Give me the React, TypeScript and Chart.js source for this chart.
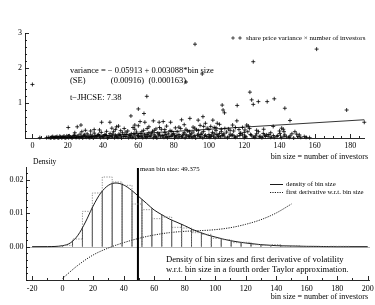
import React, { useEffect, useRef } from "react";
import { Chart, registerables } from "chart.js";
Chart.register(...registerables);

const FONT = '"Liberation Serif", "Times New Roman", Times, serif';
const W = 375;
const H = 305;

// ---------------- Top panel data ----------------
// share price variance x number of investors (x = bin size, y = variance)
const scatterPoints: [number, number][] = [
  [0, 1.53], [4.2, 0.01],
  // dense band
  [8, 0.01], [9, 0.02], [10, 0.01], [11, 0.03], [12, 0.01], [13, 0.02], [14, 0.04], [15, 0.01],
  [16, 0.03], [17, 0.02], [18, 0.05], [19, 0.01], [20, 0.03], [21, 0.06], [22, 0.02], [23, 0.04],
  [24, 0.08], [25, 0.02], [26, 0.05], [27, 0.11], [28, 0.03], [29, 0.07], [30, 0.04], [31, 0.12],
  [32, 0.02], [33, 0.09], [34, 0.05], [35, 0.14], [36, 0.03], [37, 0.08], [38, 0.06], [39, 0.16],
  [40, 0.04], [41, 0.1], [42, 0.07], [43, 0.02], [44, 0.13], [45, 0.05], [46, 0.18], [47, 0.08],
  [48, 0.03], [49, 0.11], [50, 0.06], [51, 0.15], [52, 0.09], [53, 0.04], [54, 0.2], [55, 0.07],
  [56, 0.12], [57, 0.03], [58, 0.09], [59, 0.17], [60, 0.05], [61, 0.13], [62, 0.08], [63, 0.22],
  [64, 0.04], [65, 0.1], [66, 0.15], [67, 0.06], [68, 0.19], [69, 0.09], [70, 0.03], [71, 0.14],
  [72, 0.11], [73, 0.25], [74, 0.07], [75, 0.16], [76, 0.05], [77, 0.12], [78, 0.21], [79, 0.08],
  [80, 0.13], [81, 0.04], [82, 0.18], [83, 0.1], [84, 0.27], [85, 0.06], [86, 0.15], [87, 0.09],
  [88, 0.2], [89, 0.03], [90, 0.12], [91, 0.17], [92, 0.07], [93, 0.23], [94, 0.11], [95, 0.05],
  [96, 0.14], [97, 0.19], [98, 0.08], [99, 0.28], [100, 0.1], [101, 0.04], [102, 0.16], [103, 0.12],
  [104, 0.21], [105, 0.06], [106, 0.13], [107, 0.25], [108, 0.09], [109, 0.03], [110, 0.17], [112, 0.11],
  [113, 0.07], [114, 0.2], [116, 0.05], [118, 0.14], [119, 0.09], [121, 0.03], [122, 0.18], [124, 0.08],
  [126, 0.02], [127, 0.12], [129, 0.05], [132, 0.04], [134, 0.1], [137, 0.02], [139, 0.07], [144, 0.03],
  [146, 0.06], [152, 0.02], [157, 0.01],
  [10.5, 0.0], [12.5, 0.01], [14.5, 0.0], [16.5, 0.01], [18.5, 0.0], [20.5, 0.01], [22.5, 0.0], [24.5, 0.02],
  [26.5, 0.01], [28.5, 0.0], [30.5, 0.02], [32.5, 0.01], [34.5, 0.0], [36.5, 0.03], [38.5, 0.01], [40.5, 0.02],
  [42.5, 0.0], [44.5, 0.03], [46.5, 0.01], [48.5, 0.02], [50.5, 0.0], [52.5, 0.04], [54.5, 0.01], [56.5, 0.02],
  [58.5, 0.0], [60.5, 0.03], [62.5, 0.01], [64.5, 0.02], [66.5, 0.04], [68.5, 0.01], [70.5, 0.0], [72.5, 0.03],
  [74.5, 0.02], [76.5, 0.01], [78.5, 0.04], [80.5, 0.0], [82.5, 0.02], [84.5, 0.03], [86.5, 0.01], [88.5, 0.05],
  [90.5, 0.02], [92.5, 0.0], [94.5, 0.03], [96.5, 0.01], [98.5, 0.04], [100.5, 0.02], [103.5, 0.01], [106.5, 0.03],
  [110.5, 0.01], [115, 0.02], [120, 0.01], [125, 0.03], [130, 0.01], [135, 0.02], [141, 0.01], [148, 0.0],
  [11.5, 0.04], [13.5, 0.03], [15.5, 0.05], [17.5, 0.04], [19.5, 0.06], [21.5, 0.03], [23.5, 0.07], [25.5, 0.05],
  [27.5, 0.04], [29.5, 0.09], [31.5, 0.06], [33.5, 0.03], [35.5, 0.07], [37.5, 0.1], [39.5, 0.05], [41.5, 0.08],
  [43.5, 0.06], [45.5, 0.11], [47.5, 0.05], [49.5, 0.08], [51.5, 0.04], [53.5, 0.1], [55.5, 0.06], [57.5, 0.13],
  [59.5, 0.07], [61.5, 0.04], [63.5, 0.09], [65.5, 0.06], [67.5, 0.12], [69.5, 0.05], [71.5, 0.08], [73.5, 0.06],
  [75.5, 0.1], [77.5, 0.04], [79.5, 0.09], [81.5, 0.07], [83.5, 0.05], [85.5, 0.11], [87.5, 0.06], [89.5, 0.09],
  [91.5, 0.04], [93.5, 0.08], [95.5, 0.1], [97.5, 0.06], [99.5, 0.03], [101.5, 0.08], [102.5, 0.05], [104.5, 0.1],
  [105.5, 0.04], [107.5, 0.07], [108.5, 0.12], [111.5, 0.05], [113.5, 0.09], [114.5, 0.03], [117.5, 0.07], [120.5, 0.05],
  [123.5, 0.1], [126.5, 0.06], [128.5, 0.03], [131.5, 0.08], [133.5, 0.05], [136.5, 0.07], [138.5, 0.04], [142.5, 0.05],
  [145.5, 0.02], [150.5, 0.04], [155, 0.02],
  // middle level
  [24, 0.15], [28, 0.18], [33, 0.2], [38, 0.23], [42, 0.19], [47, 0.24], [50, 0.21], [53, 0.17],
  [58, 0.25], [62, 0.18], [65, 0.27], [69, 0.22], [72, 0.3], [75, 0.24], [79, 0.19], [83, 0.31],
  [87, 0.25], [89, 0.18], [92, 0.28], [94, 0.21], [97, 0.33], [100, 0.24], [103, 0.3], [107, 0.18],
  [109, 0.27], [112, 0.22], [115, 0.3], [117, 0.24], [120, 0.16], [123, 0.27], [128, 0.18], [131, 0.25],
  [135, 0.15], [140, 0.2], [147, 0.12],
  [30, 0.22], [35, 0.24], [45, 0.28], [52, 0.27], [57, 0.3], [60, 0.35], [66, 0.32], [70, 0.26],
  [76, 0.34], [81, 0.29], [86, 0.38], [91, 0.31], [95, 0.36], [98, 0.42], [101, 0.33], [104, 0.29],
  [106, 0.39], [111, 0.26], [119, 0.3], [127, 0.22],
  // outliers
  [20.3, 0.3], [25.4, 0.32], [27.5, 0.37], [39.2, 0.45], [43.9, 0.45], [47.7, 0.32], [48.8, 0.34],
  [55.8, 0.63], [58, 0.37], [60, 0.83], [61, 0.47], [63.2, 0.7], [63.7, 0.45], [64.8, 1.19], [68.5, 0.49],
  [71.8, 0.45], [74.1, 0.47], [78.3, 0.45], [84.5, 0.52], [87, 1.6], [89.2, 0.56], [92.1, 2.68],
  [93.9, 0.51], [96.2, 1.83], [96.6, 0.61], [102.2, 0.51], [104.7, 0.42], [107.5, 0.94], [108, 0.8],
  [108.8, 0.72], [113.4, 0.37], [115.8, 0.49], [116, 0.93], [117.6, 0.13], [120.4, 0.23], [121.4, 0.37],
  [122.3, 0.34], [123.2, 1.31], [124.2, 1.09], [125.1, 0.96], [125.1, 2.18], [128, 1.04], [130.8, 0.13],
  [132.7, 0.09], [133, 1.04], [136.4, 0.33], [137, 1.12], [140.2, 0.13], [141.2, 0.28], [142.1, 0.25],
  [142.5, 0.18], [143, 0.85], [143, 0.09], [145.9, 0.5], [148.7, 0.18], [149.7, 0.11], [151.2, 0.09],
  [154, 0.04], [161, 2.54], [178, 0.8], [188, 0.45],
];
const regressionIntercept = -0.05913;
const regressionSlope = 0.003088;
const regressionXRange = [0, 188];
const topXTickLabels = [0, 20, 40, 60, 80, 100, 120, 140, 160, 180];
const topYTickLabels = [1, 2, 3];

// ---------------- Bottom panel data ----------------
const binEdges = [
  0, 6.5, 13, 19.5, 26, 32.5, 39, 45.5, 52, 58.5, 65, 71.5, 78, 84.5, 91, 97.5, 104, 110.5, 117,
  123.5, 130, 136.5, 143, 149.5, 156, 162.5, 169, 175.5, 182, 188.5,
];
const empiricalDensity = [
  0.0004, 0.0023, 0.0106, 0.0161, 0.0209, 0.0194, 0.0184, 0.0128, 0.0111, 0.0084, 0.0089, 0.0058,
  0.0056, 0.0042, 0.0037, 0.0025, 0.0021, 0.0012, 0.0013, 0.0006, 0.0004, 0.0006, 0.0002, 0.0003,
  0.0, 0.0001, 0.0, 0.0001, 0.0001,
];
const fittedAtEdges = [
  0.0003, 0.0016, 0.0058, 0.0118, 0.0168, 0.019, 0.0187, 0.0168, 0.0142, 0.0115, 0.0096, 0.008,
  0.0068, 0.0053, 0.0042, 0.0032, 0.0024, 0.0018, 0.0013, 0.0009, 0.0006, 0.0004, 0.0003, 0.0002,
  0.0001, 0.0001, 0, 0, 0, 0,
];
const densityX = [-20, -10, 0, 5, 10, 15, 20, 25, 30, 35, 40, 45, 50, 55, 60, 65, 70, 75, 80, 85, 90, 95, 100, 105, 110, 120, 130, 140, 150, 160, 180, 200];
const densityY = [
  0, 0.00002, 0.0003, 0.0011, 0.0034, 0.0074, 0.0122, 0.0161, 0.0184, 0.0191, 0.0185, 0.017, 0.015,
  0.013, 0.011, 0.0096, 0.0083, 0.0073, 0.0063, 0.0052, 0.0043, 0.0035, 0.0029, 0.0023, 0.0018,
  0.0011, 0.0006, 0.0003, 0.0002, 0.0001, 0, 0,
];
const derivX = [0, 10, 20, 30, 40, 50, 60, 70, 80, 90, 100, 110, 120, 130, 140, 150];
const derivY = [
  -0.0095, -0.0056, -0.0025, -0.0004, 0.0012, 0.0025, 0.0035, 0.0042, 0.0046, 0.0048, 0.0051,
  0.0057, 0.0067, 0.0081, 0.0101, 0.0128,
];
const meanBinSize = 49.375;
const bottomXTickLabels = [-20, 0, 20, 40, 60, 80, 100, 120, 140, 160, 180, 200];
const bottomYTickLabels = [0, 0.01, 0.02];

type AxisSpec = {
  xMajor: number[];
  xMinor: [number, number, number];
  yMajor: number[];
  yMinor: [number, number, number];
  xFmt: (v: number) => string;
  yFmt: (v: number) => string;
  xLabelY: number;
  yLabelRight: number;
  fontSize: number;
};

function drawAxes(chart: any, s: AxisSpec) {
  const { ctx, chartArea: a } = chart;
  const xs = chart.scales.x;
  const ys = chart.scales.y;
  ctx.save();
  ctx.strokeStyle = "#111";
  ctx.lineWidth = 0.9;
  ctx.beginPath();
  ctx.moveTo(a.left + 0.5, a.top);
  ctx.lineTo(a.left + 0.5, a.bottom + 0.5);
  ctx.lineTo(a.right, a.bottom + 0.5);
  ctx.stroke();
  ctx.beginPath();
  const [xf, xt, xstep] = s.xMinor;
  const nx = Math.round((xt - xf) / xstep);
  for (let i = 0; i <= nx; i++) {
    const v = xf + i * xstep;
    const px = Math.round(xs.getPixelForValue(v)) + 0.5;
    const major = s.xMajor.some((m) => Math.abs(m - v) < 1e-9);
    ctx.moveTo(px, a.bottom);
    ctx.lineTo(px, a.bottom - (major ? 4 : 2));
  }
  const [yf, yt, ystep] = s.yMinor;
  const ny = Math.round((yt - yf) / ystep);
  for (let i = 0; i <= ny; i++) {
    const v = yf + i * ystep;
    const py = Math.round(ys.getPixelForValue(v)) + 0.5;
    const major = s.yMajor.some((m) => Math.abs(m - v) < 1e-9);
    ctx.moveTo(a.left, py);
    ctx.lineTo(a.left + (major ? 4 : 2), py);
  }
  ctx.stroke();
  ctx.fillStyle = "#000";
  ctx.font = `${s.fontSize}px ${FONT}`;
  ctx.textAlign = "center";
  ctx.textBaseline = "middle";
  s.xMajor.forEach((v) => ctx.fillText(s.xFmt(v), xs.getPixelForValue(v), s.xLabelY));
  ctx.textAlign = "right";
  s.yMajor.forEach((v) => ctx.fillText(s.yFmt(v), s.yLabelRight, ys.getPixelForValue(v)));
  ctx.restore();
}

function drawCross(ctx: CanvasRenderingContext2D, x: number, y: number, r: number) {
  ctx.beginPath();
  ctx.moveTo(x - r, y);
  ctx.lineTo(x + r, y);
  ctx.moveTo(x, y - r);
  ctx.lineTo(x, y + r);
  ctx.stroke();
}

const topPlugin = {
  id: "topDecor",
  afterDraw(chart: any) {
    drawAxes(chart, {
      xMajor: topXTickLabels,
      xMinor: [0, 185, 5],
      yMajor: topYTickLabels,
      yMinor: [0, 3, 0.2],
      xFmt: (v) => String(v),
      yFmt: (v) => String(v),
      xLabelY: 146,
      yLabelRight: 22,
      fontSize: 8,
    });
    const ctx: CanvasRenderingContext2D = chart.ctx;
    ctx.save();
    ctx.fillStyle = "#000";
    ctx.strokeStyle = "#000";
    ctx.lineWidth = 0.7;
    // legend
    drawCross(ctx, 233, 38, 1.8);
    drawCross(ctx, 240, 38, 1.8);
    ctx.font = `7px ${FONT}`;
    ctx.textBaseline = "middle";
    ctx.textAlign = "left";
    ctx.fillText("share price variance \u00d7 number of investors", 246, 38);
    // regression annotation
    ctx.font = `8.5px ${FONT}`;
    const p1 = "variance = ";
    const p2 = "\u2212 0.05913 ";
    const line1 = p1 + p2 + "+ 0.003088*bin size";
    ctx.fillText(line1, 70, 71);
    const x2 = 70 + ctx.measureText(p1).width;
    const x3 = x2 + ctx.measureText(p2).width;
    ctx.fillText("(SE)", 70, 80.5);
    ctx.fillText("(0.00916)", x2 + 3, 80.5);
    ctx.fillText("(0.000163)", x3 + 4, 80.5);
    ctx.fillText("t\u2212JHCSE: 7.38", 70, 98);
    // x title
    ctx.font = `8px ${FONT}`;
    ctx.textAlign = "right";
    ctx.fillText("bin size = number of investors", 368, 157);
    ctx.restore();
  },
};

const bottomPlugin = {
  id: "bottomDecor",
  beforeDatasetsDraw(chart: any) {
    const { ctx, chartArea: a } = chart;
    const y0 = Math.round(chart.scales.y.getPixelForValue(0)) + 0.5;
    ctx.save();
    ctx.strokeStyle = "#b8b8b8";
    ctx.lineWidth = 1;
    ctx.beginPath();
    ctx.moveTo(a.left, y0);
    ctx.lineTo(a.right, y0);
    ctx.stroke();
    ctx.restore();
  },
  afterDraw(chart: any) {
    drawAxes(chart, {
      xMajor: bottomXTickLabels,
      xMinor: [-20, 200, 10],
      yMajor: bottomYTickLabels,
      yMinor: [-0.01, 0.022, 0.002],
      xFmt: (v) => String(v),
      yFmt: (v) => v.toFixed(2),
      xLabelY: 288.5,
      yLabelRight: 23.5,
      fontSize: 8,
    });
    const ctx: CanvasRenderingContext2D = chart.ctx;
    ctx.save();
    ctx.fillStyle = "#000";
    ctx.textBaseline = "middle";
    ctx.textAlign = "left";
    ctx.font = `7.5px ${FONT}`;
    ctx.fillText("Density", 33, 162);
    ctx.font = `6.8px ${FONT}`;
    const mx = chart.scales.x.getPixelForValue(meanBinSize);
    ctx.fillText("mean bin size: " + meanBinSize, mx + 2, 169.5);
    // legend
    ctx.strokeStyle = "#000";
    ctx.lineWidth = 0.9;
    ctx.beginPath();
    ctx.moveTo(270, 184.5);
    ctx.lineTo(283, 184.5);
    ctx.stroke();
    ctx.setLineDash([1.2, 1.2]);
    ctx.beginPath();
    ctx.moveTo(270, 192.5);
    ctx.lineTo(283, 192.5);
    ctx.stroke();
    ctx.setLineDash([]);
    ctx.font = `6.8px ${FONT}`;
    ctx.fillText("density of bin size", 286, 184.5);
    ctx.fillText("first derivative w.r.t. bin size", 286, 192.5);
    // annotation
    ctx.font = `8.6px ${FONT}`;
    ctx.fillText("Density of bin sizes and first derivative of volatility", 166, 260);
    ctx.fillText("w.r.t. bin size in a fourth order Taylor approximation.", 166, 269.5);
    // x title
    ctx.font = `8px ${FONT}`;
    ctx.textAlign = "right";
    ctx.fillText("bin size = number of investors", 368, 296.5);
    ctx.restore();
  },
};

export default function App() {
  const topRef = useRef<HTMLCanvasElement>(null);
  const botRef = useRef<HTMLCanvasElement>(null);

  useEffect(() => {
    const top = new Chart(topRef.current as HTMLCanvasElement, {
      type: "scatter",
      data: {
        datasets: [
          {
            type: "scatter",
            data: scatterPoints.map(([x, y]) => ({ x, y })),
            pointStyle: "cross",
            pointRadius: 2,
            borderColor: "#000",
            backgroundColor: "#000",
            borderWidth: 0.8,
            clip: 6,
          } as any,
          {
            type: "line",
            data: regressionXRange.map((x) => ({ x, y: regressionIntercept + regressionSlope * x })),
            borderColor: "#000",
            borderWidth: 0.8,
            pointRadius: 0,
            fill: false,
          } as any,
        ],
      },
      options: {
        responsive: false,
        animation: false,
        devicePixelRatio: 1,
        events: [],
        layout: { padding: { left: 25, top: 33, right: W - 365, bottom: H - 138 } },
        scales: {
          x: { type: "linear", min: -4.2, max: 188.4, display: false },
          y: { type: "linear", min: 0, max: 3, display: false },
        },
        plugins: { legend: { display: false }, tooltip: { enabled: false } },
      },
      plugins: [topPlugin],
    });

    const histPath: { x: number; y: number }[] = [];
    empiricalDensity.forEach((h, i) => {
      histPath.push({ x: binEdges[i], y: 0 });
      histPath.push({ x: binEdges[i], y: h });
      histPath.push({ x: binEdges[i + 1], y: h });
      histPath.push({ x: binEdges[i + 1], y: 0 });
    });
    const spikes: { x: number; y: number | null }[] = [];
    fittedAtEdges.forEach((h, i) => {
      if (h <= 0) return;
      spikes.push({ x: binEdges[i], y: 0 });
      spikes.push({ x: binEdges[i], y: h });
      spikes.push({ x: binEdges[i], y: null });
    });

    const bot = new Chart(botRef.current as HTMLCanvasElement, {
      type: "line",
      data: {
        datasets: [
          {
            data: histPath,
            borderColor: "#777",
            borderWidth: 0.8,
            borderDash: [1.3, 1.3],
            pointRadius: 0,
            tension: 0,
            fill: false,
          },
          {
            data: spikes as any,
            borderColor: "#111",
            borderWidth: 0.8,
            pointRadius: 0,
            tension: 0,
            spanGaps: false,
            fill: false,
          },
          {
            data: densityX.map((x, i) => ({ x, y: densityY[i] })),
            borderColor: "#000",
            borderWidth: 0.9,
            pointRadius: 0,
            cubicInterpolationMode: "monotone",
            fill: false,
          },
          {
            data: derivX.map((x, i) => ({ x, y: derivY[i] })),
            borderColor: "#000",
            borderWidth: 0.9,
            borderDash: [1.2, 1.2],
            pointRadius: 0,
            cubicInterpolationMode: "monotone",
            fill: false,
          },
          {
            data: [
              { x: meanBinSize, y: -0.01 },
              { x: meanBinSize, y: 0.0236 },
            ],
            borderColor: "#000",
            borderWidth: 2,
            pointRadius: 0,
            fill: false,
          },
        ] as any,
      },
      options: {
        responsive: false,
        animation: false,
        devicePixelRatio: 1,
        events: [],
        layout: { padding: { left: 26, top: 167, right: W - 370, bottom: H - 280 } },
        scales: {
          x: { type: "linear", min: -24, max: 201.5, display: false },
          y: { type: "linear", min: -0.01, max: 0.0239, display: false },
        },
        plugins: { legend: { display: false }, tooltip: { enabled: false } },
      },
      plugins: [bottomPlugin],
    });

    return () => {
      top.destroy();
      bot.destroy();
    };
  }, []);

  const cs: React.CSSProperties = { position: "absolute", left: 0, top: 0, width: W, height: H };
  return (
    <div style={{ position: "absolute", left: 0, top: 0, width: W, height: H, background: "#fff", overflow: "hidden" }}>
      <canvas ref={topRef} width={W} height={H} style={cs} />
      <canvas ref={botRef} width={W} height={H} style={cs} />
    </div>
  );
}
